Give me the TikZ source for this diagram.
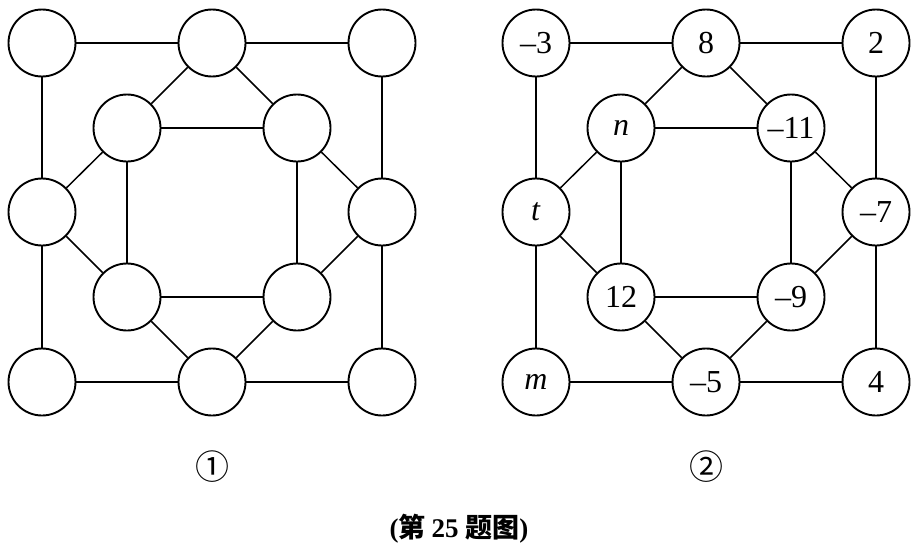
\documentclass[tikz,border=0pt]{standalone}
\usepackage{fontspec}
\setmainfont{Liberation Serif}
\newfontfamily\cjk{Noto Sans CJK SC}
\tikzset{
  cell/.style={circle,draw,line width=1.9pt,minimum size=67pt,inner sep=0pt,font=\fontsize{32}{32}\selectfont},
  edge/.style={line width=1.5pt},
  tag/.style={font=\cjk\fontsize{34}{34}\selectfont},
  figcap/.style={font=\bfseries\fontsize{27}{27}\selectfont}
}
\begin{document}
\begin{tikzpicture}[x=1pt,y=-1pt]
  \useasboundingbox (0,0) rectangle (917,554);
  % figure 1
  \node[cell] (atl) at (42,43) {}; \node[cell] (atm) at (212,43) {}; \node[cell] (atr) at (382,43) {};
  \node[cell] (aul) at (127,128) {}; \node[cell] (aur) at (297,128) {};
  \node[cell] (aml) at (42,212) {}; \node[cell] (amr) at (382,212) {};
  \node[cell] (all) at (127,297) {}; \node[cell] (alr) at (297,297) {};
  \node[cell] (abl) at (42,382) {}; \node[cell] (abm) at (212,382) {}; \node[cell] (abr) at (382,382) {};
  % figure 2
  \node[cell] (btl) at (536,43) {--3}; \node[cell] (btm) at (706,43) {8}; \node[cell] (btr) at (876,43) {2};
  \node[cell] (bul) at (621,128) {\textit{n}}; \node[cell] (bur) at (791,128) {--11};
  \node[cell] (bml) at (536,212) {\textit{t}}; \node[cell] (bmr) at (876,212) {--7};
  \node[cell] (bll) at (621,297) {12}; \node[cell] (blr) at (791,297) {--9};
  \node[cell] (bbl) at (536,382) {\textit{m}}; \node[cell] (bbm) at (706,382) {--5}; \node[cell] (bbr) at (876,382) {4};
  \foreach \p in {a,b}
    \foreach \u/\v in {tl/tm,tm/tr,tl/ml,ml/bl,bl/bm,bm/br,tr/mr,mr/br,tm/ul,tm/ur,ul/ur,ul/ml,ul/ll,ur/mr,ur/lr,ml/ll,ll/lr,ll/bm,lr/bm,lr/mr}
      \draw[edge] (\p\u) -- (\p\v);
  \node[tag] (t1) at (212,467) {①};
  \node[tag] (t2) at (706,467) {②};
  \node[figcap] (capt) at (459,529) {(\cjk 第\/ \rmfamily 25 \cjk 题图\rmfamily )};
\end{tikzpicture}
\end{document}
